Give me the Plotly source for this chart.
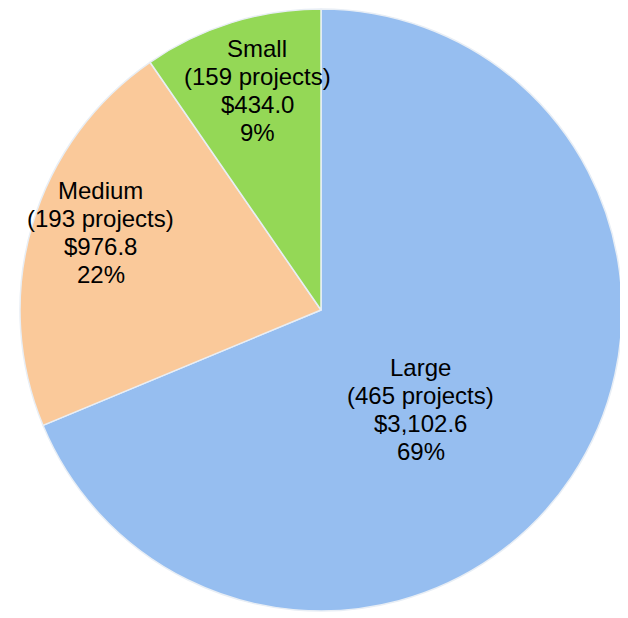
import plotly.graph_objects as go

labels = ['Large', 'Medium', 'Small']
projects = [465, 193, 159]
amounts = [3102.6, 976.8, 434.0]
percents = [69, 22, 9]
colors = ['#96BEF0', '#FAC99A', '#94D856']

# label block centres (paper coords), one per slice
label_x = [0.666, 0.134, 0.394]
label_y = [0.334, 0.628, 0.865]
line_gap = 28  # px between text lines

fig = go.Figure()
fig.add_trace(go.Pie(
    labels=labels,
    values=amounts,
    sort=False,
    direction='clockwise',
    rotation=0,
    textinfo='none',
    hoverinfo='label+value+percent',
    marker=dict(colors=colors, line=dict(color='#E8EEF5', width=1.5)),
    showlegend=False,
))

for lab, n, amt, pct, x, y in zip(labels, projects, amounts, percents, label_x, label_y):
    lines = [lab, f'({n} projects)', f'${amt:,.1f}', f'{pct}%']
    for i, txt in enumerate(lines):
        fig.add_annotation(
            x=x, y=y, xref='paper', yref='paper',
            xanchor='center', yanchor='middle',
            text=txt, showarrow=False,
            yshift=(1.5 - i) * line_gap,
            font=dict(family='Liberation Sans, Arial', size=24, color='black'),
        )

fig.update_layout(
    width=628, height=618,
    margin=dict(l=12, r=14, t=1, b=15),
    paper_bgcolor='white',
    plot_bgcolor='white',
)

fig.write_html('out.html')
